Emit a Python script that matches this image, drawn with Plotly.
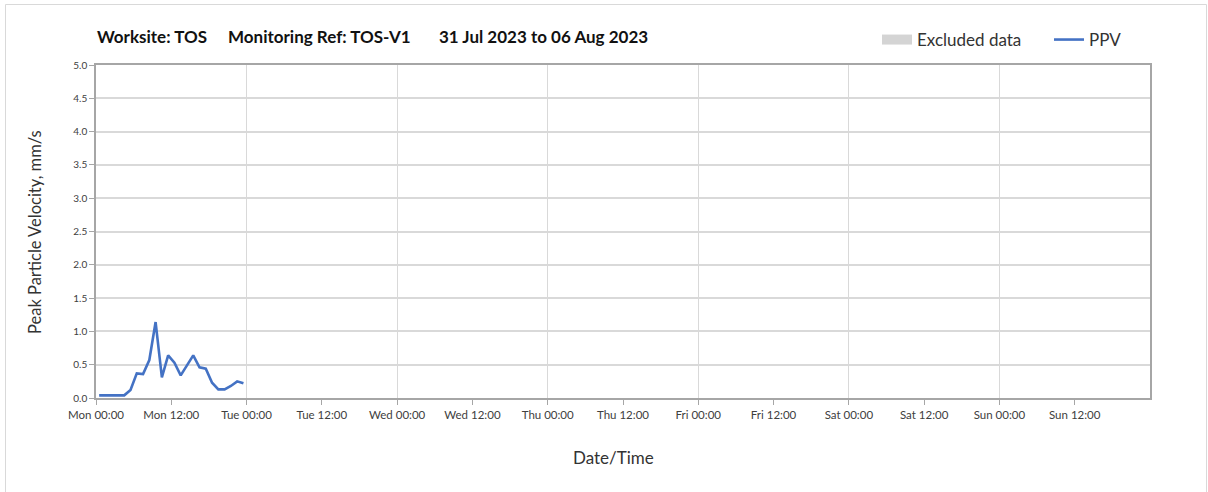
import pandas as pd
import plotly.graph_objects as go

# Hourly PPV readings, stamped at the half hour
times = pd.date_range("2023-07-31 00:30", periods=24, freq="h")
ppv = [0.04, 0.04, 0.04, 0.04, 0.04, 0.12, 0.37, 0.36, 0.57, 1.14,
       0.31, 0.64, 0.53, 0.34, 0.50, 0.64, 0.46, 0.44, 0.23, 0.13,
       0.13, 0.18, 0.25, 0.22]

title_parts = ["Worksite: TOS", "Monitoring Ref: TOS-V1", "31 Jul 2023 to 06 Aug 2023"]
y_ticks = [0.0, 0.5, 1.0, 1.5, 2.0, 2.5, 3.0, 3.5, 4.0, 4.5, 5.0]
# Mon 00:00 through Sun 12:00, every 12 hours
x_ticks = [t.strftime("%Y-%m-%d %H:%M")
           for t in pd.date_range("2023-07-31 00:00", periods=14, freq="12h")]

W, H = 1208, 492
L, R, T, B = 96, 58, 65, 94
pw, ph = W - L - R, H - T - B


def px(x):
    return (x - L) / pw


def py(y):
    return (H - B - y) / ph


FONT = "Lato, 'Open Sans', sans-serif"
TXT = "#404040"

fig = go.Figure()
# Legend-only entry for excluded periods (none in this window)
fig.add_trace(go.Scatter(
    x=[None], y=[None], mode="lines", name="Excluded data",
    line=dict(color="#d4d4d4", width=11), legend="legend",
))
fig.add_trace(go.Scatter(
    x=times, y=ppv, mode="lines", name="PPV",
    line=dict(color="#4472C4", width=2.6), legend="legend2",
))

legend_common = dict(
    yanchor="middle", xanchor="left", bgcolor="rgba(0,0,0,0)",
    font=dict(size=17, color="#333333"), borderwidth=0,
)

fig.update_layout(
    width=W, height=H,
    margin=dict(l=L, r=R, t=T, b=B),
    paper_bgcolor="white", plot_bgcolor="white",
    font=dict(family=FONT, color=TXT),
    showlegend=True,
    legend=dict(x=px(877), y=py(40), **legend_common),
    legend2=dict(x=px(1049), y=py(40), **legend_common),
    xaxis=dict(
        type="date",
        range=["2023-07-31 00:00", "2023-08-07 00:00"],
        tickmode="array", tickvals=x_ticks,
        tickformat="%a %H:%M",
        ticks="outside", ticklen=5, tickcolor="#a6a6a6",
        tickfont=dict(size=11.5, color=TXT),
        showgrid=False,
        minor=dict(dtick=24 * 3600 * 1000, tick0="2023-07-31 00:00",
                   showgrid=True, gridcolor="#d9d9d9", gridwidth=1, ticks=""),
        showline=True, linecolor="#a6a6a6", linewidth=1.5, mirror=True,
        zeroline=False,
    ),
    yaxis=dict(
        range=[0, 5], tickvals=y_ticks, tickformat=".1f",
        ticks="outside", ticklen=5, tickcolor="#a6a6a6",
        tickfont=dict(size=10, color=TXT),
        showgrid=True, gridcolor="#d9d9d9", gridwidth=1.5,
        showline=True, linecolor="#a6a6a6", linewidth=1.5, mirror=True,
        zeroline=False,
    ),
)

# Page frame
fig.add_shape(type="rect", xref="paper", yref="paper",
              x0=px(5.5), x1=px(1206.5), y0=py(500), y1=py(4.5),
              line=dict(color="#d9d9d9", width=1), layer="below")

# Title in three parts
for text, x in zip(title_parts, [95, 226, 437]):
    fig.add_annotation(text=f"<b>{text}</b>", xref="paper", yref="paper",
                       x=px(x), y=py(37), xanchor="left", yanchor="middle",
                       showarrow=False, font=dict(size=17, color="#111111"))

# Axis titles
fig.add_annotation(text="Peak Particle Velocity, mm/s", xref="paper", yref="paper",
                   x=px(35), y=py(232), textangle=-90, showarrow=False,
                   xanchor="center", yanchor="middle",
                   font=dict(size=16.5, color="#333333"))
fig.add_annotation(text="Date/Time", xref="paper", yref="paper",
                   x=px(613), y=py(457), showarrow=False,
                   xanchor="center", yanchor="middle",
                   font=dict(size=17, color="#333333"))

fig.write_html("out.html")
